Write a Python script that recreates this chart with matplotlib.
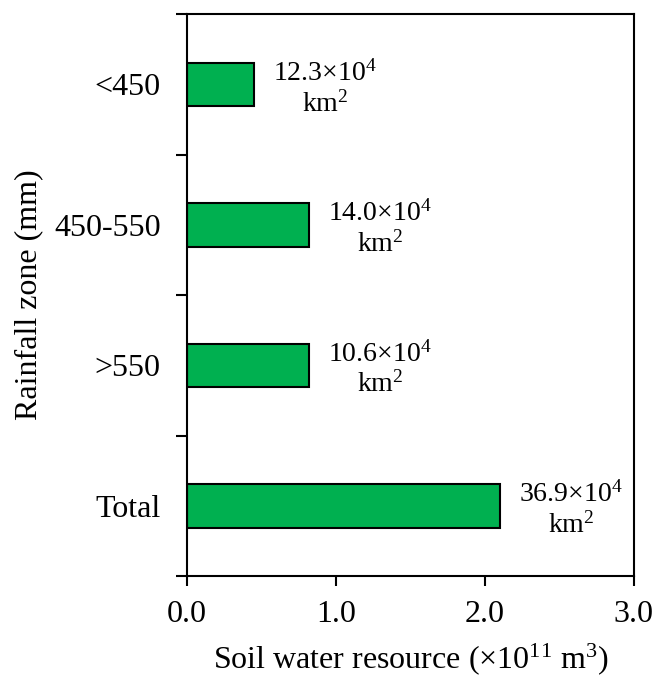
import matplotlib
matplotlib.use("Agg")
import matplotlib.pyplot as plt
from matplotlib.ticker import FixedLocator

plt.rcParams['font.family'] = ['Liberation Serif', 'DejaVu Serif']
plt.rcParams['mathtext.fontset'] = 'custom'
plt.rcParams['mathtext.rm'] = 'Liberation Serif'
plt.rcParams['mathtext.it'] = 'Liberation Serif:italic'
plt.rcParams['mathtext.bf'] = 'Liberation Serif:bold'

categories = ['<450', '450-550', '>550', 'Total']
values = [0.45, 0.82, 0.82, 2.10]
areas = ['12.3', '14.0', '10.6', '36.9']

fig = plt.figure(figsize=(6.54, 6.80), dpi=100)
ax = fig.add_axes([0.286, 0.153, 0.683, 0.826])

n = len(categories)
ypos = [n - 1 - i for i in range(n)]
ax.barh(ypos, values, height=0.31, color='#00B050', edgecolor='black', linewidth=1.5)

for y, v, a in zip(ypos, values, areas):
    ax.text(v + 0.13, y - 0.03, a + '×10$^{4}$\nkm$^{2}$', ha='left', va='center',
            multialignment='center', fontsize=20, linespacing=1.2)

ax.set_xlim(0, 3.0)
ax.set_ylim(-0.5, n - 0.5)
ax.set_xticks([0, 1, 2, 3])
ax.set_xticklabels(['0.0', '1.0', '2.0', '3.0'])
ax.set_yticks(ypos)
ax.set_yticklabels(categories)
ax.yaxis.set_minor_locator(FixedLocator([k - 0.5 for k in range(n + 1)]))
ax.tick_params(axis='y', which='major', length=0, labelsize=23, pad=19)
ax.tick_params(axis='y', which='minor', length=8, width=1.5, direction='out')
ax.tick_params(axis='x', which='major', length=7, width=1.5, direction='out', labelsize=23, pad=10)

for s in ax.spines.values():
    s.set_linewidth(1.5)

ax.set_xlabel('Soil water resource (×10$^{11}$ m$^{3}$)', fontsize=23, labelpad=9)
ax.set_ylabel('Rainfall zone (mm)', fontsize=23, labelpad=8)

fig.savefig('out.png', dpi=100)
